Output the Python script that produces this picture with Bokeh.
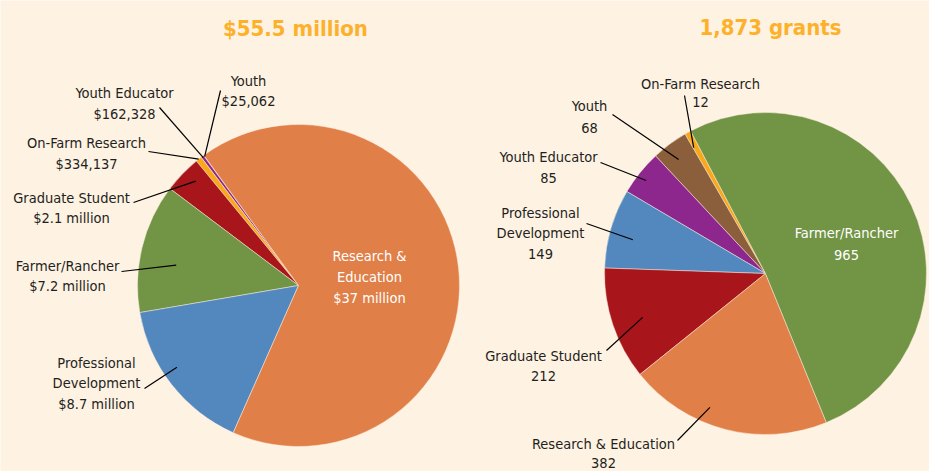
import numpy as np
from bokeh.plotting import figure
from bokeh.models import Range1d, ColumnDataSource
from bokeh.core.properties import value
from bokeh.embed import file_html
from bokeh.resources import INLINE

# ---------------- data ----------------
funds_categories = ["Youth", "Youth Educator", "On-Farm Research", "Graduate Student",
                    "Farmer/Rancher", "Professional Development", "Research & Education"]
funds_values = [25062, 162328, 334137, 2.1e6, 7.2e6, 8.7e6, 37e6]
funds_labels = [["Youth", "$25,062"], ["Youth Educator", "$162,328"],
                ["On-Farm Research", "$334,137"], ["Graduate Student", "$2.1 million"],
                ["Farmer/Rancher", "$7.2 million"], ["Professional", "Development", "$8.7 million"],
                ["Research &", "Education", "$37 million"]]
funds_title = "$55.5 million"

grants_categories = ["On-Farm Research", "Youth", "Youth Educator", "Professional Development",
                     "Graduate Student", "Research & Education", "Farmer/Rancher"]
grants_values = [12, 68, 85, 149, 212, 382, 965]
grants_labels = [["On-Farm Research", "12"], ["Youth", "68"], ["Youth Educator", "85"],
                 ["Professional", "Development", "149"], ["Graduate Student", "212"],
                 ["Research & Education", "382"], ["Farmer/Rancher", "965"]]
grants_title = "1,873 grants"

colors = {
    "Youth": "#8B5E3C",
    "Youth Educator": "#8E278D",
    "On-Farm Research": "#F9A81A",
    "Graduate Student": "#A8161C",
    "Farmer/Rancher": "#719445",
    "Professional Development": "#5388BE",
    "Research & Education": "#E07F48",
}

BG = "#FEF2E3"
TITLE_COLOR = "#FDB12A"
FONT = "DejaVu Sans Condensed, Roboto, sans-serif"

W, H = 929, 471
p = figure(width=W, height=H, output_backend="svg", toolbar_location=None,
           x_range=Range1d(0, W), y_range=Range1d(-H, 0),
           min_border=0, background_fill_color=BG, border_fill_color=BG)
p.axis.visible = False
p.grid.visible = False
p.outline_line_color = None


def Y(y):
    return -y


def draw_pie(cx, cy, r, start_deg, cats, vals, labels, label_layout, title, title_xy):
    vals = np.array(vals, dtype=float)
    frac = vals / vals.sum()
    ends = np.radians(start_deg) + np.cumsum(frac) * 2 * np.pi
    starts = np.concatenate([[np.radians(start_deg)], ends[:-1]])
    src = ColumnDataSource(dict(start=starts, end=ends, color=[colors[c] for c in cats]))
    p.wedge(x=cx, y=Y(cy), radius=r, start_angle="start", end_angle="end",
            fill_color="color", line_color=BG, line_width=0.6, line_alpha=0.8, source=src)

    for i, lay in enumerate(label_layout):
        lx, ly0, dy, white, lead = lay
        lines = labels[i]
        ys = [Y(ly0 + k * dy) for k in range(len(lines))]
        p.text(x=[lx] * len(lines), y=ys, text=lines,
               text_font=value(FONT), text_font_size="14.5px",
               text_color="white" if white else "#231F20",
               text_align="center", text_baseline="middle")
        if lead is not None:
            (ox, oy), t, rf = lead
            a = starts[i] + t * (ends[i] - starts[i])
            ix = cx + rf * r * np.cos(a)
            iy = cy - rf * r * np.sin(a)
            p.line(x=[ox, ix], y=[Y(oy), Y(iy)], line_color="#000000", line_width=1.2)

    p.text(x=[title_xy[0]], y=[Y(title_xy[1])], text=[title],
           text_font=value(FONT), text_font_size="22px", text_font_style="bold",
           text_color=TITLE_COLOR, text_align="center", text_baseline="middle")


# layout: (label x, first line y, line step, white?, ((leader outer x, y), pos in slice, radius frac))
left_layout = [
    (248, 80, 20, False, ((220, 90), 0.5, 0.99)),
    (124, 92, 21, False, ((159, 107), 0.5, 0.99)),
    (86, 142, 21, False, ((148, 151), 0.5, 1.0)),
    (71, 197, 20, False, ((133, 202), 0.38, 0.91)),
    (67, 265, 20, False, ((121, 271), 0.59, 0.77)),
    (96, 362, 20.5, False, ((144, 388), 0.43, 0.91)),
    (369, 255, 21, True, None),
]
right_layout = [
    (700, 83, 18, False, ((684, 95), 0.87, 0.90)),
    (589, 105, 22, False, ((612, 114), 0.56, 0.89)),
    (548, 156, 21, False, ((600, 162), 0.55, 0.94)),
    (540, 212, 20.5, False, ((586, 223), 0.57, 0.85)),
    (543, 355, 20, False, ((606, 350), 0.53, 0.81)),
    (603, 443, 19, False, ((677, 440), 0.39, 0.90)),
    (846, 232, 22, True, None),
]

draw_pie(298, 285, 161, 126.0, funds_categories, funds_values, funds_labels,
         left_layout, funds_title, (295, 28))
draw_pie(765, 273, 161, 117.7, grants_categories, grants_values, grants_labels,
         right_layout, grants_title, (770, 27))

html = file_html(p, INLINE)
open("out.html", "w").write(html)
